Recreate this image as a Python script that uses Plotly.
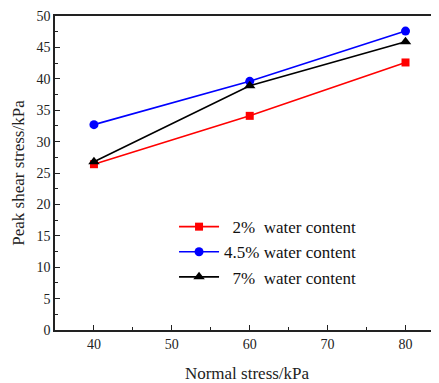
import plotly.graph_objects as go

normal_stress = [40, 60, 80]
series_names = ["\u00a0\u00a02%\u00a0\u00a0water content", "4.5% water content", "\u00a0\u00a07%\u00a0\u00a0water content"]
water_2 = [26.4, 34.1, 42.6]
water_45 = [32.7, 39.6, 47.6]
water_7 = [26.8, 38.9, 45.9]

font_family = "Liberation Serif, DejaVu Serif, serif"

fig = go.Figure()
styles = [
    (water_2, "#ff0000", "square", 8),
    (water_45, "#0000ff", "circle", 9),
    (water_7, "#000000", "triangle-up", 10),
]
for name, (vals, col, sym, sz) in zip(series_names, styles):
    fig.add_trace(go.Scatter(
        x=normal_stress, y=vals, name=name, mode="lines+markers",
        line=dict(color=col, width=1.6),
        marker=dict(color=col, symbol=sym, size=sz),
    ))

fig.update_layout(
    width=431, height=375,
    margin=dict(l=47, r=0, t=8, b=53),
    paper_bgcolor="white", plot_bgcolor="white",
    font=dict(family=font_family, size=14, color="#222"),
    showlegend=True,
    legend=dict(x=0.31, y=0.385, xanchor="left", yanchor="top",
                bgcolor="rgba(0,0,0,0)", font=dict(size=17, color="#111"),
                tracegroupgap=0, itemwidth=40),
    xaxis=dict(
        range=[35, 84.3], tickvals=[40, 50, 60, 70, 80],
        showgrid=False, zeroline=False, automargin=False,
        showline=True, linecolor="#222", linewidth=1.5, mirror=True,
        ticks="inside", ticklen=5, tickwidth=1.2, tickcolor="#222",
        minor=dict(dtick=5, ticks="inside", ticklen=3, tickcolor="#222", tickwidth=1),
        title=dict(text="Normal stress/kPa", font=dict(size=17), standoff=17),
    ),
    yaxis=dict(
        range=[0, 50], dtick=5,
        showgrid=False, zeroline=False, automargin=False,
        showline=True, linecolor="#222", linewidth=1.5,
        ticks="inside", ticklen=5, tickwidth=1.2, tickcolor="#222",
        minor=dict(dtick=2.5, ticks="inside", ticklen=3, tickcolor="#222", tickwidth=1),
        title=dict(text="Peak shear stress/kPa", font=dict(size=17), standoff=8),
    ),
)

fig.write_html("out.html")
